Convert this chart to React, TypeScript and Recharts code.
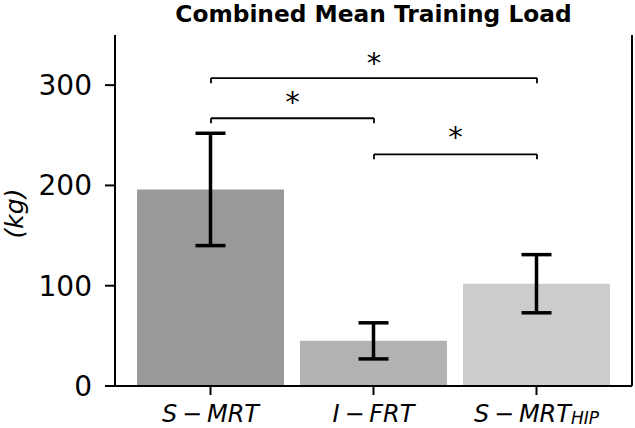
import React from 'react';
import {
    ComposedChart,
    Bar,
    Cell,
    ErrorBar,
    XAxis,
    YAxis,
    ReferenceLine,
    ReferenceDot
} from 'recharts';

const groups = ['S-MRT', 'I-FRT', 'S-MRT_HIP'];
const meanLoad = [196, 45, 102];
const loadError = [56, 18, 29];
const barColors = ['#999999', '#b2b2b2', '#cccccc'];
const yTicks = [0, 100, 200, 300];

// significance brackets: group index from/to, bracket height (kg)
const bracketFrom = [0, 0, 1];
const bracketTo = [2, 1, 2];
const bracketLevel = [307, 267, 231];
const starLevel = [327, 288, 253];

const FONT = 'DejaVu Sans';

const data = groups.map((g, i) => ({ name: g, idx: i, load: meanLoad[i], err: loadError[i] }));

function GroupTick({ x, y, payload }: any) {
    const [main, sub] = String(payload.value).split('_');
    const [a, b] = main.split('-');
    return (
        <text x={x} y={y + 25} textAnchor="middle" fontFamily={FONT} fontSize={24} fill="#000">
            <tspan fontStyle="italic">{a}</tspan>
            <tspan>{'\u2009\u2212\u2009'}</tspan>
            <tspan fontStyle="italic">{b}</tspan>
            {sub && <tspan fontStyle="italic" fontSize={17} dy={2}>{sub}</tspan>}
        </text>
    );
}

function Star({ cx, cy }: any) {
    return (
        <text x={cx} y={cy} dy={15} textAnchor="middle" fontFamily={FONT} fontSize={29} fill="#000">*</text>
    );
}

function YLabel({ viewBox }: any) {
    const cx = viewBox.x + 14;
    const cy = viewBox.y + viewBox.height / 2 + 3;
    return (
        <text x={cx} y={cy} transform={`rotate(-90 ${cx} ${cy})`} textAnchor="middle" dominantBaseline="central"
            fontFamily={FONT} fontStyle="italic" fontSize={25} fill="#000">(kg)</text>
    );
}

export default function App() {
    return (
        <div style={{ position: 'absolute', left: 0, top: 0, width: 635, height: 428, background: '#fff' }}>
            <div style={{
                position: 'absolute', left: 115, top: 2, width: 517, textAlign: 'center',
                fontFamily: FONT, fontWeight: 'bold', fontSize: 23.3, lineHeight: '23px', color: '#000'
            }}>
                Combined Mean Training Load
            </div>
            <ComposedChart width={635} height={428} data={data} margin={{ top: 35, right: 0, bottom: 0, left: 0 }}>
                <XAxis
                    dataKey="name"
                    type="category"
                    padding={{ left: 14, right: 14 }}
                    height={42}
                    tickSize={9}
                    tick={<GroupTick />}
                    axisLine={{ stroke: '#000', strokeWidth: 2 }}
                    tickLine={{ stroke: '#000', strokeWidth: 2 }}
                />
                <XAxis
                    xAxisId="num"
                    dataKey="idx"
                    orientation="top"
                    type="number"
                    domain={[-0.589, 2.583]}
                    allowDataOverflow
                    height={0}
                    tick={false}
                    tickLine={false}
                    axisLine={{ stroke: '#000', strokeWidth: 2 }}
                />
                <YAxis
                    domain={[0, 350]}
                    ticks={yTicks}
                    width={115}
                    tickSize={10}
                    tickMargin={13}
                    tick={{ fontFamily: FONT, fontSize: 28, fill: '#000' }}
                    axisLine={{ stroke: '#000', strokeWidth: 2 }}
                    tickLine={{ stroke: '#000', strokeWidth: 2 }}
                    label={<YLabel />}
                />
                <YAxis
                    yAxisId="right"
                    orientation="right"
                    domain={[0, 1]}
                    width={3}
                    tick={false}
                    tickLine={false}
                    axisLine={{ stroke: '#000', strokeWidth: 2 }}
                />
                <Bar dataKey="load" barSize={147} isAnimationActive={false}>
                    {data.map((d, i) => <Cell key={d.name} fill={barColors[i]} />)}
                    <ErrorBar dataKey="err" width={15} strokeWidth={3.5} stroke="#000" isAnimationActive={false} />
                </Bar>
                {bracketLevel.map((lv, i) => (
                    <ReferenceLine key={'h' + i} xAxisId="num" stroke="#000" strokeWidth={1.8}
                        segment={[{ x: bracketFrom[i], y: lv }, { x: bracketTo[i], y: lv }]} />
                ))}
                {bracketLevel.map((lv, i) => (
                    <ReferenceLine key={'l' + i} xAxisId="num" stroke="#000" strokeWidth={1.8}
                        segment={[{ x: bracketFrom[i], y: lv }, { x: bracketFrom[i], y: lv - 5 }]} />
                ))}
                {bracketLevel.map((lv, i) => (
                    <ReferenceLine key={'r' + i} xAxisId="num" stroke="#000" strokeWidth={1.8}
                        segment={[{ x: bracketTo[i], y: lv }, { x: bracketTo[i], y: lv - 5 }]} />
                ))}
                {starLevel.map((lv, i) => (
                    <ReferenceDot key={'s' + i} xAxisId="num" x={(bracketFrom[i] + bracketTo[i]) / 2} y={lv}
                        r={0} shape={<Star />} />
                ))}
            </ComposedChart>
        </div>
    );
}
